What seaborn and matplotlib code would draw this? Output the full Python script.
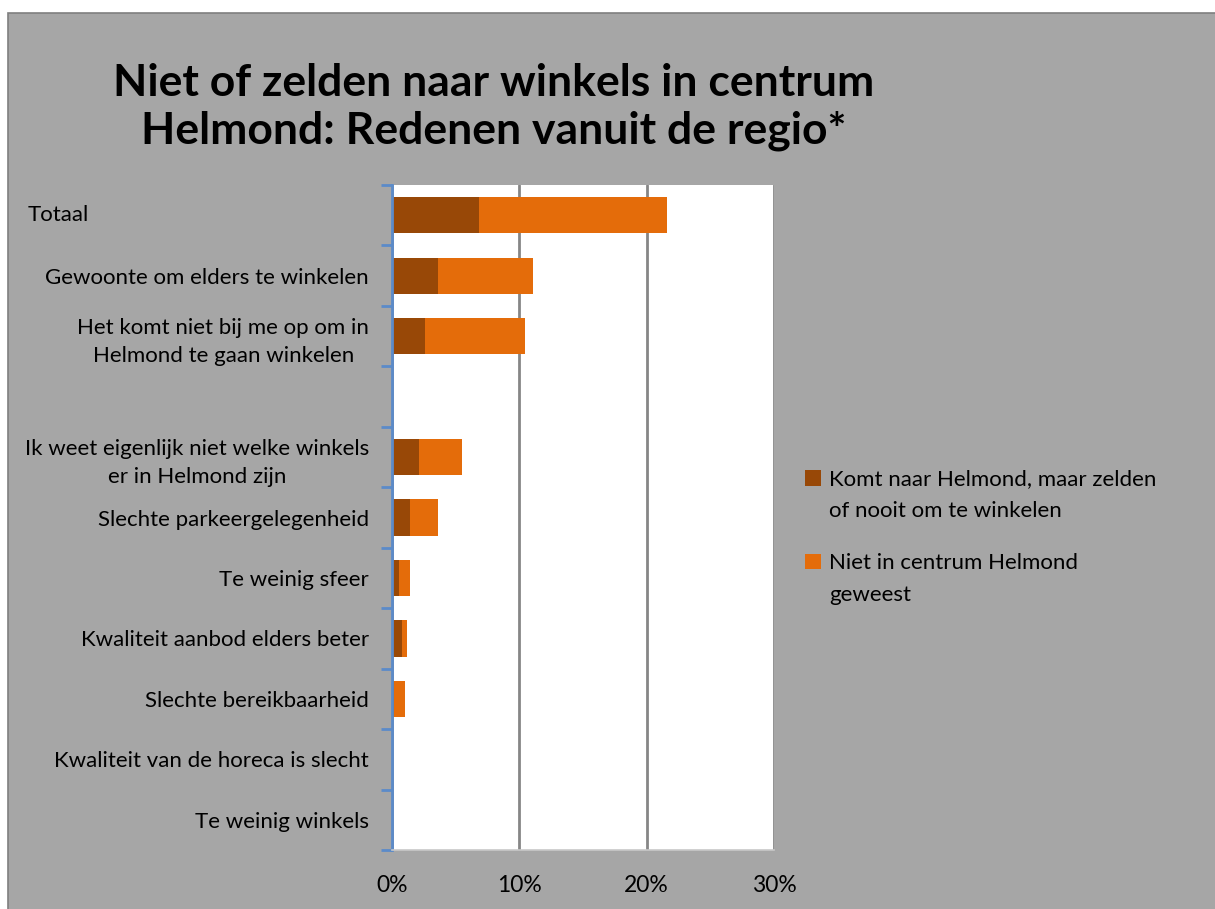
import matplotlib
matplotlib.use("Agg")
import matplotlib.pyplot as plt
import matplotlib.transforms as mtransforms
from matplotlib.patches import Rectangle
from matplotlib.legend_handler import HandlerPatch
from matplotlib.ticker import PercentFormatter, FixedLocator
import seaborn as sns
import pandas as pd
import numpy as np

# ---------------- data ----------------
categories = [
    "Totaal",
    "Gewoonte om elders te winkelen",
    "Het komt niet bij me op om in\nHelmond te gaan winkelen",
    " ",
    "Ik weet eigenlijk niet welke winkels\ner in Helmond zijn",
    "Slechte parkeergelegenheid",
    "Te weinig sfeer",
    "Kwaliteit aanbod elders beter",
    "Slechte bereikbaarheid",
    "Kwaliteit van de horeca is slecht",
    "Te weinig winkels",
]
komt_zelden = [6.8, 3.6, 2.6, 0.0, 2.15, 1.4, 0.55, 0.8, 0.18, 0.05, 0.05]
niet_geweest = [14.8, 7.45, 7.85, 0.0, 3.35, 2.25, 0.87, 0.36, 0.87, 0.0, 0.0]
series_names = ["Komt naar Helmond, maar zelden\nof nooit om te winkelen",
                "Niet in centrum Helmond\ngeweest"]
xticks = [0, 10, 20, 30]
title = "Niet of zelden naar winkels in centrum\nHelmond: Redenen vanuit de regio*"

# ---------------- style ----------------
sns.set_theme(style="white")
plt.rcParams["font.family"] = ["Lato", "DejaVu Sans"]

DARK = "#984807"
ORANGE = "#E46C0A"
BG = "#A6A6A6"
GRID = "#868686"
BLUE = "#5B8BC9"
FS = 16

W, H = 1215, 909
fig = plt.figure(figsize=(W / 100, H / 100), dpi=100)
fig.patch.set_facecolor("white")
fig.add_artist(Rectangle((8 / W, -0.05), 1.1, 1 - 13 / H + 0.05,
                         transform=fig.transFigure, facecolor=BG,
                         edgecolor="#7F7F7F", linewidth=1.2, zorder=-10))

ax = fig.add_axes([392 / W, 1 - 850 / H, (774 - 392) / W, (850 - 185) / H])
ax.set_facecolor("white")

df = pd.DataFrame({
    "cat": categories,
    "komt": komt_zelden,
    "niet": niet_geweest,
})
df["total"] = df["komt"] + df["niet"]

sns.barplot(data=df, y="cat", x="total", order=categories, color=ORANGE,
            saturation=1, width=0.6, orient="h", ax=ax, errorbar=None,
            linewidth=0)
sns.barplot(data=df, y="cat", x="komt", order=categories, color=DARK,
            saturation=1, width=0.6, orient="h", ax=ax, errorbar=None,
            linewidth=0)

ax.set_xlabel("")
ax.set_ylabel("")
ax.set_xlim(0, 30)
ax.set_ylim(len(categories) - 0.5, -0.5)

# x axis
ax.xaxis.set_major_locator(FixedLocator(xticks))
ax.xaxis.set_major_formatter(PercentFormatter(xmax=100, decimals=0))
ax.tick_params(axis="x", which="major", length=8, width=1.2, color=GRID,
               direction="out", pad=10, labelsize=FS + 0.5, labelcolor="black")
ax.xaxis.grid(True, color=GRID, linewidth=2)
ax.yaxis.grid(False)
ax.set_axisbelow(True)

# y axis
ax.yaxis.set_minor_locator(FixedLocator(np.arange(-0.5, len(categories), 1.0)))
ax.tick_params(axis="y", which="major", length=0, pad=16.5, labelsize=FS,
               labelcolor="black")
ax.tick_params(axis="y", which="minor", length=8, width=2, color=BLUE,
               direction="out", left=True)
labels = [c if c != "Totaal" else "" for c in categories]
ax.set_yticks(range(len(categories)))
ax.set_yticklabels(labels)
for lbl in ax.get_yticklabels():
    lbl.set_multialignment("center")
    lbl.set_linespacing(1.5)

# "Totaal" label left aligned near the figure edge
ax.text(28 / W, 0, "Totaal",
        transform=mtransforms.blended_transform_factory(fig.transFigure, ax.transData),
        ha="left", va="center", fontsize=FS, color="black")

for side in ["top", "right"]:
    ax.spines[side].set_visible(False)
ax.spines["left"].set_color(BLUE)
ax.spines["left"].set_linewidth(2)
ax.spines["bottom"].set_color("#C8C8C8")
ax.spines["bottom"].set_linewidth(1.2)

# title
fig.text(494 / W, 1 - 107 / H, title, ha="center", va="center",
         fontsize=32, fontweight="bold", color="black", linespacing=1.25)

# legend
def square(legend, orig_handle, xdescent, ydescent, width, height, fontsize):
    s = height
    return Rectangle((-xdescent, -ydescent + 0.78 * fontsize), s, s)

handles = [Rectangle((0, 0), 1, 1, facecolor=DARK, edgecolor="none"),
           Rectangle((0, 0), 1, 1, facecolor=ORANGE, edgecolor="none")]
leg = fig.legend(handles, series_names, loc="upper left",
                 bbox_to_anchor=(805 / W, 1 - 469 / H), frameon=False,
                 fontsize=FS, handlelength=0.7, handleheight=0.7,
                 handletextpad=0.4, labelspacing=1.4, borderpad=0,
                 borderaxespad=0,
                 handler_map={Rectangle: HandlerPatch(patch_func=square)})
for t in leg.get_texts():
    t.set_linespacing(1.78)
    t.set_color("black")

fig.savefig("out.png", dpi=100, facecolor=fig.get_facecolor())
